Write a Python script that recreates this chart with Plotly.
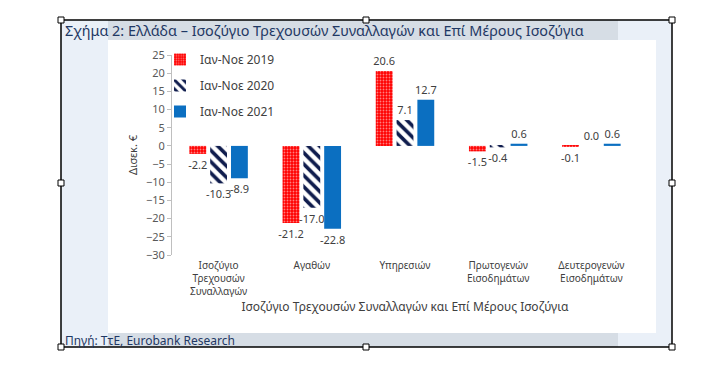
import plotly.graph_objects as go

# ---------------- data ----------------
categories = ["Ισοζύγιο<br>Τρεχουσών<br>Συναλλαγών", "Αγαθών", "Υπηρεσιών",
              "Πρωτογενών<br>Εισοδημάτων", "Δευτερογενών<br>Εισοδημάτων"]
series_names = ["Ιαν-Νοε 2019", "Ιαν-Νοε 2020", "Ιαν-Νοε 2021"]
v2019 = [-2.2, -21.2, 20.6, -1.5, -0.1]
v2020 = [-10.3, -17.0, 7.1, -0.4, 0.0]
v2021 = [-8.9, -22.8, 12.7, 0.6, 0.6]
y_ticks = [-30, -25, -20, -15, -10, -5, 0, 5, 10, 15, 20, 25]

title_text = "Σχήμα 2: Ελλάδα – Ισοζύγιο Τρεχουσών Συναλλαγών και Επί Μέρους Ισοζύγια"
x_title = "Ισοζύγιο Τρεχουσών Συναλλαγών και Επί Μέρους Ισοζύγια"
y_title = "Δισεκ. €"
source_text = "Πηγή: ΤτΕ, Eurobank Research"

# ---------------- layout geometry (pixels) ----------------
W, H = 705, 376
PL, PR, PT, PB = 172, 638, 55, 255   # plot area


def px(x):
    return (x - PL) / (PR - PL)


def py(y):
    return (PB - y) / (PB - PT)


FONT = "Noto Sans"
NAVY = "#1F3864"
AXIS = "#BFBFBF"
TXT = "#404040"

fig = go.Figure()

fig.add_bar(x=categories, y=v2019, name=series_names[0],
            marker=dict(color="#FF0000",
                        pattern=dict(shape=".", fillmode="overlay", fgcolor="white",
                                     size=3, solidity=0.3)),
            legendgroup="a")
fig.add_bar(x=categories, y=v2020, name=series_names[1],
            marker=dict(color="#0F1C4D",
                        pattern=dict(shape="\\", fillmode="replace", fgcolor="#0F1C4D",
                                     bgcolor="white", size=8, solidity=0.45)),
            legendgroup="b")
fig.add_bar(x=categories, y=v2021, name=series_names[2],
            marker=dict(color="#0B6FC1"), legendgroup="c")

fig.update_traces(texttemplate="%{y:.1f}", textposition="outside", cliponaxis=False,
                  constraintext="none",
                  textfont=dict(family=FONT, size=11, color=TXT),
                  marker_line_width=0, selector=dict(type="bar"))

ymin, ymax = y_ticks[0], y_ticks[-1]
zero_pos = (0 - ymin) / (ymax - ymin)
n = len(categories)
boundaries = [i - 0.5 for i in range(n + 1)]

shapes = [
    dict(type="rect", xref="paper", yref="paper", x0=px(61), x1=px(672), y0=py(20), y1=py(347),
         fillcolor="#EAF0F8", line_width=0, layer="below"),
    dict(type="rect", xref="paper", yref="paper", x0=px(108), x1=px(618), y0=py(20), y1=py(40),
         fillcolor="#D6DDE5", line_width=0, layer="below"),
    dict(type="rect", xref="paper", yref="paper", x0=px(108), x1=px(618), y0=py(333), y1=py(347),
         fillcolor="#D6DDE5", line_width=0, layer="below"),
    dict(type="rect", xref="paper", yref="paper", x0=px(108), x1=px(656), y0=py(40), y1=py(333),
         fillcolor="white", line_width=0, layer="below"),
    dict(type="rect", xref="paper", yref="paper", x0=px(61), x1=px(672), y0=py(20), y1=py(347),
         fillcolor="rgba(0,0,0,0)", line=dict(color="black", width=1.5), layer="above"),
]
for hx in (61, 366, 672):
    for hy in (20, 347):
        shapes.append(dict(type="rect", xref="paper", yref="paper",
                           x0=px(hx - 3), x1=px(hx + 3), y0=py(hy - 3), y1=py(hy + 3),
                           fillcolor="white", line=dict(color="black", width=1), layer="above"))
for hx in (61, 672):
    shapes.append(dict(type="rect", xref="paper", yref="paper",
                       x0=px(hx - 3), x1=px(hx + 3), y0=py(183 - 3), y1=py(183 + 3),
                       fillcolor="white", line=dict(color="black", width=1), layer="above"))

fig.update_layout(
    width=W, height=H,
    margin=dict(l=PL, r=W - PR, t=PT, b=H - PB, autoexpand=False),
    paper_bgcolor="white", plot_bgcolor="rgba(0,0,0,0)",
    barmode="group", bargap=0.33, bargroupgap=0.19,
    font=dict(family=FONT, size=11, color=TXT),
    showlegend=True,
    legend=dict(x=px(160), y=py(45), xanchor="left", yanchor="top",
                bgcolor="rgba(0,0,0,0)", tracegroupgap=7,
                font=dict(family=FONT, size=12, color=TXT)),
    xaxis=dict(type="category", showline=False, ticks="", showgrid=False, zeroline=False,
               ticklabelstandoff=3,
               tickfont=dict(family=FONT, size=10, color=TXT),
               title=dict(text=x_title, font=dict(family=FONT, size=12, color=TXT), standoff=5)),
    xaxis2=dict(overlaying="x", anchor="free", position=zero_pos, range=[-0.5, n - 0.5],
                showline=True, linecolor=AXIS, linewidth=1, ticks="outside", ticklen=4,
                tickcolor=AXIS, tickvals=boundaries, showticklabels=False,
                showgrid=False, zeroline=False),
    yaxis=dict(range=[ymin, ymax], tickvals=y_ticks, showgrid=False, zeroline=False,
               showline=True, linecolor=AXIS, ticks="outside", ticklen=4, tickcolor=AXIS,
               tickfont=dict(family=FONT, size=11, color="#595959"),
               title=dict(text=y_title, font=dict(family=FONT, size=11, color=TXT), standoff=6)),
    shapes=shapes,
    annotations=[
        dict(text=title_text, xref="paper", yref="paper", x=px(63), y=py(30),
             xanchor="left", yanchor="middle", showarrow=False,
             font=dict(family=FONT, size=14.4, color=NAVY)),
        dict(text=source_text, xref="paper", yref="paper", x=px(63), y=py(340),
             xanchor="left", yanchor="middle", showarrow=False,
             font=dict(family=FONT, size=12, color=NAVY)),
    ],
)

fig.write_html("out.html", config={"displayModeBar": False},
               post_script="document.body.style.margin='0px';")
